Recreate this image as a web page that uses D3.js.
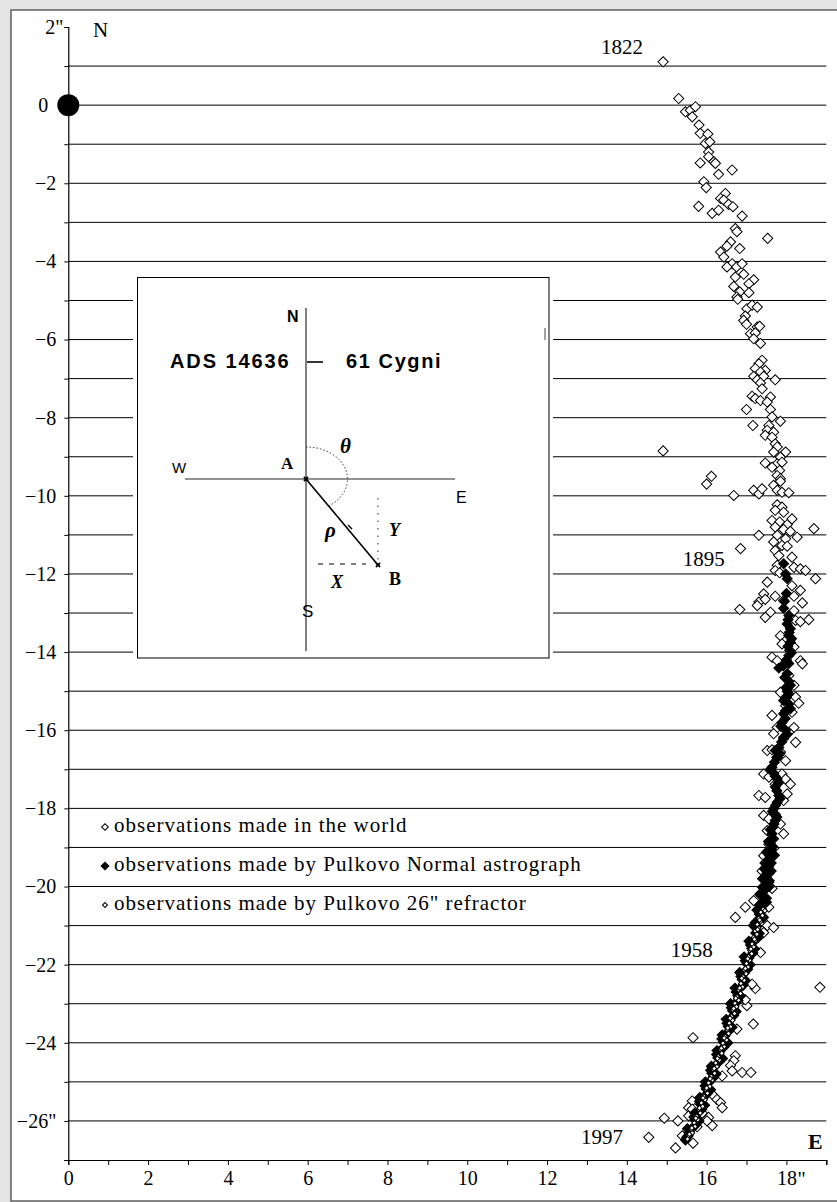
<!DOCTYPE html>
<html>
<head>
<meta charset="utf-8">
<script src="https://cdn.jsdelivr.net/npm/d3@7"></script>
<style>
  html, body { margin: 0; padding: 0; background: #e4e4e4; }
  svg { display: block; }
</style>
</head>
<body>
<svg id="chart" width="837" height="1202"></svg>
<script>
// Relative position of 61 Cygni B with respect to A (arcseconds), 1822–1997.

// Axis ticks and labels
const xTickValues = [0, 2, 4, 6, 8, 10, 12, 14, 16, 18];
const xTickLabels = ["0", "2", "4", "6", "8", "10", "12", "14", "16", "18"];
const yTickValues = [2, 0, -2, -4, -6, -8, -10, -12, -14, -16, -18, -20, -22, -24, -26];
const yTickLabels = ["2\"", "0", "\u22122", "\u22124", "\u22126", "\u22128", "\u221210", "\u221212",
  "\u221214", "\u221216", "\u221218", "\u221220", "\u221222", "\u221224", "\u221226\""];

// Epoch annotations [x, y, label]
const epochs = [[13.35, 1.3, "1822"], [15.4, -11.8, "1895"], [15.1, -21.8, "1958"], [12.85, -26.6, "1997"]];

// Series names
const seriesNames = [
  "observations made in the world",
  "observations made by Pulkovo Normal astrograph",
  "observations made by Pulkovo 26\" refractor"
];

// Observations made in the world [X, Y]
const worldObs = [
  [14.91,1.11],[15.30,0.17],[15.47,-0.17],[15.59,-0.13],[15.72,-0.04],[15.64,-0.30],[15.81,-0.51],[15.84,-0.72],
  [16.03,-0.74],[15.97,-0.98],[16.08,-0.94],[16.05,-1.20],[15.84,-1.48],[16.05,-1.32],[16.18,-1.45],[16.22,-1.49],
  [16.30,-1.77],[16.64,-1.66],[15.93,-1.96],[15.99,-2.11],[16.47,-2.26],[16.35,-2.39],[16.43,-2.43],[15.80,-2.59],
  [16.14,-2.77],[16.30,-2.69],[16.55,-2.54],[16.66,-2.60],[16.89,-2.84],[16.72,-3.16],[16.76,-3.24],[17.53,-3.41],
  [16.60,-3.50],[16.51,-3.61],[16.83,-3.67],[16.35,-3.76],[16.43,-3.89],[16.64,-4.06],[16.75,-4.14],[16.51,-4.14],
  [16.89,-4.06],[16.93,-4.33],[17.18,-4.47],[16.72,-4.40],[17.06,-4.57],[16.68,-4.64],[16.83,-4.78],[16.76,-4.91],
  [17.06,-4.80],[16.78,-4.97],[17.01,-5.21],[17.14,-5.12],[17.27,-5.17],[16.97,-5.40],[16.93,-5.51],[17.00,-5.61],
  [17.27,-5.68],[17.33,-5.66],[17.10,-5.85],[17.22,-5.83],[17.18,-5.98],[17.35,-6.10],[17.39,-6.53],[17.31,-6.62],
  [17.22,-6.74],[17.47,-6.79],[17.35,-6.83],[17.18,-6.94],[17.27,-7.03],[17.43,-6.94],[17.72,-7.03],[17.35,-7.11],
  [17.39,-7.26],[17.14,-7.45],[17.22,-7.51],[17.60,-7.47],[17.35,-7.56],[17.52,-7.60],[17.00,-7.79],[17.60,-7.79],
  [17.64,-7.98],[17.85,-8.09],[17.16,-8.20],[17.56,-8.20],[17.52,-8.32],[17.68,-8.37],[17.47,-8.45],[17.64,-8.50],
  [17.72,-8.67],[17.77,-8.75],[17.68,-8.88],[14.91,-8.85],[17.98,-8.88],[17.85,-9.01],[17.47,-9.16],[17.77,-9.18],
  [17.89,-9.14],[17.64,-9.27],[17.83,-9.35],[16.12,-9.50],[16.00,-9.70],[17.77,-9.48],[17.85,-9.56],
  [16.68,-9.99],[17.18,-9.86],[17.31,-9.95],[17.39,-9.82],[17.68,-9.73],[17.77,-9.86],[17.89,-9.91],[18.06,-9.92],
  [17.85,-9.63],[17.77,-10.23],[17.89,-10.29],[17.72,-10.37],[17.93,-10.42],[18.14,-10.59],[17.64,-10.63],[17.83,-10.67],
  [18.02,-10.74],[17.72,-10.80],[17.93,-10.86],[18.10,-10.91],[18.69,-10.84],[17.31,-11.01],[17.77,-11.01],[18.27,-11.06],
  [17.98,-11.10],[17.68,-11.18],[17.89,-11.27],[18.02,-11.29],[16.85,-11.35],[17.72,-11.40],[17.81,-11.53],[18.14,-11.57],
  [17.77,-11.78],[18.19,-11.83],[18.35,-11.87],[18.48,-11.91],[17.72,-11.91],[17.83,-11.97],[18.73,-12.12],[17.52,-12.21],
  [18.14,-12.30],[18.35,-12.42],[17.43,-12.51],[17.72,-12.57],[18.19,-12.57],[17.31,-12.72],[17.47,-12.65],[18.40,-12.74],
  [17.93,-12.68],[17.27,-12.81],[16.83,-12.91],[18.19,-12.94],[17.60,-12.98],[17.47,-13.11],[18.23,-13.19],[18.35,-13.22],
  [18.56,-13.17],[17.85,-13.58],[17.89,-13.79],[18.19,-13.87],[17.64,-14.13],[17.77,-14.22],[18.35,-14.22],[17.98,-14.26],
  [18.40,-14.30],[18.06,-14.60],[18.19,-14.85],[17.85,-15.03],[18.23,-15.15],[18.31,-15.31],[17.98,-15.37],[17.64,-15.62],
  [18.14,-15.54],[17.77,-15.93],[18.19,-15.93],[18.06,-16.05],[18.23,-16.31],[17.68,-16.09],[17.93,-16.22],[17.52,-16.52],
  [17.64,-16.50],[17.85,-16.56],[17.77,-16.69],[17.98,-16.78],[17.43,-17.12],[17.56,-17.20],[17.89,-17.12],[17.98,-17.25],
  [17.72,-17.38],[18.10,-17.38],[17.31,-17.67],[17.47,-17.72],[18.02,-17.63],[17.93,-17.80],[17.43,-18.18],[17.56,-18.27],
  [17.93,-18.65],[17.52,-18.57],[17.85,-18.40],[17.56,-18.92],[17.68,-19.02],
  [17.43,-19.21],[17.56,-19.30],[17.52,-19.42],[17.39,-19.60],[17.56,-19.67],[17.43,-19.81],[17.56,-19.89],[17.64,-20.05],
  [16.97,-20.53],[16.72,-20.79],[17.18,-20.36],[17.56,-20.53],[17.52,-21.00],[17.68,-21.05],[17.43,-21.18],[17.35,-21.69],
  [17.22,-22.61],[17.14,-22.50],[18.84,-22.58],[17.17,-23.52],[16.76,-23.65],[17.01,-23.05],[16.97,-22.90],
  [15.66,-23.87],[16.72,-24.33],[16.68,-24.46],[16.60,-24.58],[16.64,-24.72],[16.89,-24.76],[17.11,-24.76],[16.39,-24.85],
  [16.18,-25.36],[16.26,-25.45],[16.35,-25.53],[16.39,-25.66],[15.64,-25.49],[15.55,-25.66],[14.94,-25.93],[15.28,-26.00],
  [15.55,-25.87],[16.05,-25.91],[16.14,-26.12],[16.01,-26.00],[15.76,-26.15],[14.55,-26.42],[15.22,-26.69],[15.66,-26.57],
  [15.39,-26.38],[15.89,-25.80],[15.64,-25.70]
];

// Pulkovo Normal astrograph [X, Y]
const normalAstrograph = [
  [17.93,-11.74],[18.02,-12.12],[17.98,-12.00],[18.00,-12.50],[17.95,-12.70],[17.93,-12.88],[18.06,-13.06],[18.04,-13.17],
  [18.02,-13.28],[18.10,-13.40],[18.07,-13.50],[18.06,-13.58],[18.13,-13.66],[18.10,-13.75],[18.04,-13.85],[18.08,-13.95],
  [18.12,-14.02],[18.06,-14.09],[18.00,-14.20],[18.06,-14.29],[17.92,-14.35],[17.81,-14.41],[18.02,-14.55],[17.96,-14.65],
  [18.06,-14.75],[18.10,-14.85],[18.00,-14.90],[18.02,-15.00],[18.06,-15.07],[18.00,-15.16],[17.93,-15.24],[18.06,-15.33],
  [18.10,-15.45],[17.98,-15.50],[17.93,-15.58],[17.97,-15.70],[17.89,-15.80],[17.86,-15.90],[17.98,-16.00],[18.02,-16.10],
  [17.93,-16.18],[17.88,-16.30],[17.81,-16.44],[17.72,-16.52],[17.84,-16.60],[17.76,-16.70],[17.70,-16.82],[17.64,-16.95],
  [17.60,-17.00],[17.68,-17.10],[17.72,-17.18],[17.77,-17.25],[17.80,-17.35],[17.72,-17.45],[17.76,-17.55],[17.81,-17.67],
  [17.84,-17.75],[17.77,-17.84],[17.73,-17.92],[17.68,-18.01],[17.65,-18.08],[17.72,-18.15],[17.76,-18.22],[17.72,-18.31],
  [17.69,-18.40],[17.66,-18.48],[17.60,-18.55],[17.64,-18.65],[17.68,-18.78],[17.55,-18.85],[17.60,-18.91],[17.66,-18.98],
  [17.62,-19.05],[17.50,-19.12],[17.58,-19.21],[17.55,-19.33],[17.62,-19.40],[17.56,-19.48],[17.45,-19.55],[17.51,-19.66],
  [17.50,-19.79],[17.57,-19.85],[17.49,-19.97],[17.40,-20.02],[17.44,-20.11],[17.43,-20.24],[17.50,-20.30],[17.39,-20.42],
  [17.33,-20.48],[17.37,-20.56],[17.32,-20.71],[17.42,-20.78],[17.31,-20.83],[17.22,-20.92],[17.26,-21.02],[17.23,-21.19],
  [17.30,-21.30],[17.17,-21.42],[17.10,-21.50],[17.13,-21.58],[17.16,-21.70],[17.06,-21.83],[16.97,-21.90],[17.01,-21.98],
  [17.03,-22.12],[16.94,-22.22],[16.86,-22.30],[16.89,-22.38],[16.92,-22.52],[16.82,-22.62],[16.74,-22.70],[16.78,-22.79],
  [16.79,-22.92],[16.69,-23.03],[16.62,-23.10],[16.65,-23.18],[16.68,-23.30],[16.58,-23.42],[16.51,-23.50],[16.54,-23.58],
  [16.56,-23.70],[16.46,-23.82],[16.38,-23.90],[16.42,-23.98],[16.44,-24.10],[16.33,-24.22],[16.25,-24.30],[16.28,-24.38],
  [16.30,-24.50],[16.19,-24.62],[16.10,-24.70],[16.13,-24.78],[16.16,-24.90],[16.05,-25.02],[15.96,-25.10],[15.99,-25.18],
  [16.02,-25.30],[15.90,-25.42],[15.82,-25.50],[15.85,-25.58],[15.88,-25.70],[15.75,-25.83],[15.68,-25.90],[15.71,-25.98],
  [15.73,-26.10],[15.61,-26.22],[15.56,-26.30],[15.54,-26.38],[15.50,-26.42],[15.47,-26.49],
  [17.70,-19.20],[17.62,-19.60],[17.57,-20.00],[17.50,-20.40],[17.42,-20.80],[17.32,-21.20],[17.20,-21.60],[17.09,-22.00],
  [16.97,-22.40],[16.85,-22.80],[16.74,-23.20],[16.64,-23.60],[16.53,-24.00],[16.40,-24.40],[16.24,-24.80],[16.10,-25.20],
  [15.95,-25.60],[15.81,-26.00],
  [17.46,-19.40],[17.40,-19.80],[17.33,-20.20],[17.26,-20.60],[17.17,-21.00],[17.06,-21.40],[16.94,-21.80],[16.83,-22.20],
  [16.71,-22.60],[16.60,-23.00],[16.49,-23.40],[16.39,-23.80],[16.26,-24.20],[16.12,-24.60],[15.97,-25.00],[15.83,-25.40],
  [15.70,-25.80],[15.52,-26.20]
];

// Pulkovo 26-inch refractor [X, Y]
const refractor26 = [
  [17.42,-20.58],[17.36,-20.66],[17.40,-20.74],[17.31,-20.81],[17.35,-20.90],[17.27,-20.97],[17.30,-21.06],[17.22,-21.14],
  [17.26,-21.22],[17.18,-21.30],[17.22,-21.39],[17.14,-21.47],[17.18,-21.55],[17.09,-21.64],[17.13,-21.72],[17.05,-21.80],
  [17.08,-21.89],[17.00,-21.97],[17.04,-22.06],[16.95,-22.14],[16.99,-22.23],[16.91,-22.31],[16.94,-22.40],[16.86,-22.48],
  [16.90,-22.57],[16.81,-22.65],[16.85,-22.74],[16.76,-22.82],[16.80,-22.91],[16.71,-22.99],[16.75,-23.08],[16.66,-23.16],
  [16.70,-23.25],[16.62,-23.33],[16.65,-23.42],[16.57,-23.50],[16.60,-23.59],[16.52,-23.67],[16.55,-23.76],[16.46,-23.84],
  [16.50,-23.93],[16.41,-24.01],[16.44,-24.10],[16.35,-24.18],[16.38,-24.27],[16.29,-24.35],[16.32,-24.44],[16.23,-24.52],
  [16.26,-24.61],[16.17,-24.69],[16.20,-24.78],[16.11,-24.86],[16.14,-24.95],[16.05,-25.03],[16.08,-25.12],[15.99,-25.20],
  [16.02,-25.29],[15.93,-25.37],[15.96,-25.46],[15.87,-25.54],[15.90,-25.63],[15.81,-25.71],[15.84,-25.80],[15.75,-25.88],
  [15.78,-25.97],[15.69,-26.05],[15.71,-26.14],[15.62,-26.22],[15.64,-26.31],[15.55,-26.39],[15.52,-26.46],
  [17.46,-20.62],[17.33,-20.86],[17.28,-21.10],[17.20,-21.35],[17.11,-21.60],[17.03,-21.85],[16.97,-22.10],[16.88,-22.35],
  [16.83,-22.60],[16.73,-22.86],[16.68,-23.12],[16.59,-23.37],[16.53,-23.62],[16.44,-23.88],[16.37,-24.14],[16.27,-24.40],
  [16.19,-24.66],[16.09,-24.92],[16.00,-25.16],[15.91,-25.41],[15.82,-25.67],[15.73,-25.93],[15.63,-26.18],[15.57,-26.34]
];

const svg = d3.select("#chart");
const W = 837, H = 1202;

// Frame
svg.append("rect").attr("x", 0).attr("y", 0).attr("width", W).attr("height", H).attr("fill", "#e4e4e4");
svg.append("rect").attr("x", 11).attr("y", 10).attr("width", W + 10).attr("height", H - 11)
  .attr("fill", "#ffffff").attr("stroke", "#555").attr("stroke-width", 1.4);

const x = d3.scaleLinear().domain([0, 19]).range([68.3, 826.3]);
const y = d3.scaleLinear().domain([-27, 2]).range([1160, 27]);

const serif = "'Liberation Serif', 'Times New Roman', serif";
const sans = "'Liberation Sans', Arial, sans-serif";

// Horizontal grid lines at every arcsecond
const gridLevels = d3.range(1, -27, -1);
svg.append("g").selectAll("line").data(gridLevels).join("line")
  .attr("x1", x(0)).attr("x2", x(19))
  .attr("y1", d => y(d)).attr("y2", d => y(d))
  .attr("stroke", "#000").attr("stroke-width", 1);

// Y axis
const yLabelMap = new Map(yTickValues.map((v, i) => [v, yTickLabels[i]]));
const yAxis = svg.append("g").attr("transform", `translate(${x(0)},0)`)
  .call(d3.axisLeft(y).tickValues(d3.range(2, -28, -1)).tickSize(4).tickPadding(8)
    .tickFormat(d => yLabelMap.get(d) || ""));
yAxis.select(".domain").attr("stroke", "#000").attr("stroke-width", 1.2);
yAxis.selectAll(".tick line").attr("stroke", "#000");
yAxis.selectAll(".tick text").attr("font-family", serif).attr("font-size", 20).attr("fill", "#000")
  .attr("dx", d => d === 0 ? -8 : (d === 2 ? 7 : 0));

// X axis
const xLabelMap = new Map(xTickValues.map((v, i) => [v, xTickLabels[i]]));
const xAxis = svg.append("g").attr("transform", `translate(0,${y(-27)})`)
  .call(d3.axisBottom(x).tickValues(d3.range(0, 20)).tickSize(5).tickPadding(6)
    .tickFormat(d => xLabelMap.get(d) || ""));
xAxis.select(".domain").attr("stroke", "#000").attr("stroke-width", 1.2);
xAxis.selectAll(".tick line").attr("stroke", "#000");
xAxis.selectAll(".tick text").attr("font-family", serif).attr("font-size", 20).attr("fill", "#000");
// arcsecond mark after the last labelled tick
svg.append("text").attr("x", x(18) + 11).attr("y", y(-27) + 26)
  .attr("font-family", serif).attr("font-size", 20).text("\"");

// Origin: component A
svg.append("circle").attr("cx", x(0)).attr("cy", y(0)).attr("r", 11).attr("fill", "#000");

// Direction letters
svg.append("text").attr("x", 93).attr("y", 37).attr("font-family", serif).attr("font-size", 21).text("N");
svg.append("text").attr("x", 808).attr("y", 1149).attr("font-family", serif).attr("font-size", 22)
  .attr("font-weight", "bold").text("E");

// Epoch labels
svg.append("g").selectAll("text").data(epochs).join("text")
  .attr("x", d => x(d[0])).attr("y", d => y(d[1]))
  .attr("font-family", serif).attr("font-size", 21).text(d => d[2]);

// Diamond marker helper
const diamond = s => d3.symbol().type(d3.symbolSquare).size(s)();

// Series: world (open diamonds)
svg.append("g").selectAll("path").data(worldObs).join("path")
  .attr("d", diamond(52))
  .attr("transform", d => `translate(${x(d[0])},${y(d[1])}) rotate(45)`)
  .attr("fill", "#fff").attr("stroke", "#000").attr("stroke-width", 1);

// Series: Normal astrograph (filled diamonds)
svg.append("g").selectAll("path").data(normalAstrograph).join("path")
  .attr("d", diamond(50))
  .attr("transform", d => `translate(${x(d[0])},${y(d[1])}) rotate(45)`)
  .attr("fill", "#000").attr("stroke", "#000").attr("stroke-width", 1);

// Series: 26" refractor (small open diamonds)
svg.append("g").selectAll("path").data(refractor26).join("path")
  .attr("d", diamond(12))
  .attr("transform", d => `translate(${x(d[0])},${y(d[1])}) rotate(45)`)
  .attr("fill", "#fff").attr("stroke", "#000").attr("stroke-width", 1);

// Legend
const legendRows = [
  { size: 22, fill: "#fff", by: 832 },
  { size: 30, fill: "#000", by: 871 },
  { size: 12, fill: "#fff", by: 910 }
];
const legend = svg.append("g");
legend.selectAll("path").data(legendRows).join("path")
  .attr("d", d => diamond(d.size))
  .attr("transform", d => `translate(105,${d.by - 5}) rotate(45)`)
  .attr("fill", d => d.fill).attr("stroke", "#000").attr("stroke-width", 1);
legend.selectAll("text").data(seriesNames).join("text")
  .attr("x", 114).attr("y", (d, i) => legendRows[i].by)
  .attr("font-family", serif).attr("font-size", 21).attr("letter-spacing", 1)
  .text(d => d);

// Inset: definition of the measured quantities
const inset = svg.append("g");
inset.append("rect").attr("x", 133).attr("y", 273).attr("width", 420).attr("height", 389).attr("fill", "#fff");
inset.append("rect").attr("x", 137.5).attr("y", 277.5).attr("width", 411.5).attr("height", 380.5)
  .attr("fill", "#fff").attr("stroke", "#000").attr("stroke-width", 1);
svg.append("line").attr("x1", 545).attr("x2", 545).attr("y1", 328).attr("y2", 340).attr("stroke", "#444");

const A = [306, 479], B = [378, 565];
inset.append("line").attr("x1", A[0]).attr("x2", A[0]).attr("y1", 308).attr("y2", 651)
  .attr("stroke", "#000").attr("stroke-width", 1);
inset.append("line").attr("x1", 185).attr("x2", 455).attr("y1", A[1]).attr("y2", A[1])
  .attr("stroke", "#222").attr("stroke-width", 1.2);
inset.append("line").attr("x1", A[0]).attr("y1", A[1]).attr("x2", B[0]).attr("y2", B[1])
  .attr("stroke", "#000").attr("stroke-width", 1.6);
inset.append("path").attr("d", `M${A[0]},${A[1] - 32} A41,32 0 0 1 ${A[0] + 22.5},${A[1] + 27}`)
  .attr("fill", "none").attr("stroke", "#333").attr("stroke-width", 1).attr("stroke-dasharray", "1.5,2");
inset.append("line").attr("x1", B[0]).attr("x2", B[0]).attr("y1", 498).attr("y2", 560)
  .attr("stroke", "#222").attr("stroke-width", 1).attr("stroke-dasharray", "1.5,6");
inset.append("line").attr("x1", 318).attr("x2", 366).attr("y1", B[1] - 1).attr("y2", B[1] - 1)
  .attr("stroke", "#000").attr("stroke-width", 1.2).attr("stroke-dasharray", "5,6");
inset.append("line").attr("x1", 307).attr("x2", 323).attr("y1", 362).attr("y2", 362)
  .attr("stroke", "#000").attr("stroke-width", 1.6);
// star marks at A and B
[A, B].forEach(p => {
  inset.append("path").attr("d", d3.symbol().type(d3.symbolCross).size(18)())
    .attr("transform", `translate(${p[0]},${p[1]}) rotate(45)`).attr("fill", "#000");
});
inset.append("line").attr("x1", 348).attr("y1", 525).attr("x2", 352).attr("y2", 529)
  .attr("stroke", "#000").attr("stroke-width", 1.5);

const insetText = [
  { t: "N", x: 287, y: 322, f: sans, s: 16, w: "bold", st: "normal" },
  { t: "W", x: 172, y: 473, f: sans, s: 15, w: "normal", st: "normal" },
  { t: "E", x: 456, y: 503, f: sans, s: 16, w: "normal", st: "normal" },
  { t: "S", x: 302, y: 617, f: sans, s: 17, w: "normal", st: "normal" },
  { t: "A", x: 281, y: 469, f: serif, s: 17, w: "bold", st: "normal" },
  { t: "B", x: 389, y: 585, f: serif, s: 18, w: "bold", st: "normal" },
  { t: "\u03B8", x: 340, y: 453, f: serif, s: 21, w: "bold", st: "italic" },
  { t: "\u03C1", x: 325, y: 537, f: serif, s: 21, w: "bold", st: "italic" },
  { t: "Y", x: 389, y: 536, f: serif, s: 18, w: "bold", st: "italic" },
  { t: "X", x: 331, y: 588, f: serif, s: 18, w: "bold", st: "italic" }
];
inset.selectAll("text.lbl").data(insetText).join("text").attr("class", "lbl")
  .attr("x", d => d.x).attr("y", d => d.y).attr("font-family", d => d.f).attr("font-size", d => d.s)
  .attr("font-weight", d => d.w).attr("font-style", d => d.st).text(d => d.t);

inset.append("text").attr("x", 170).attr("y", 368).attr("font-family", sans).attr("font-size", 20)
  .attr("font-weight", "bold").attr("letter-spacing", 1.9).text("ADS 14636");
inset.append("text").attr("x", 346).attr("y", 368).attr("font-family", sans).attr("font-size", 20)
  .attr("font-weight", "bold").attr("letter-spacing", 1.6).text("61 Cygni");
</script>
</body>
</html>
